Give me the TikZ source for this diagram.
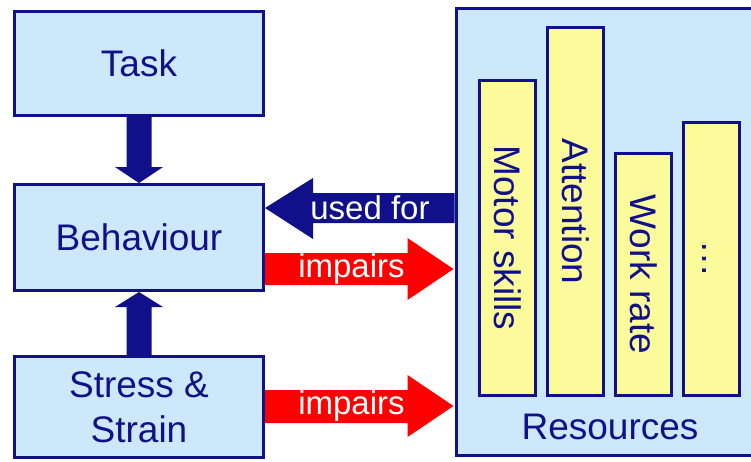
\documentclass[tikz,border=0pt]{standalone}
\usepackage{fontspec}
\setmainfont{Liberation Sans}
\usetikzlibrary{calc}

\definecolor{navy}{HTML}{10108A}
\definecolor{paleblue}{HTML}{CCE8FA}
\definecolor{paleyellow}{HTML}{FBFB9B}
\definecolor{alertred}{HTML}{FF0000}

\tikzset{
  box/.style={draw=navy, line width=3pt, fill=paleblue, text=navy,
    inner sep=0pt, align=center,
    font=\fontsize{37}{45}\selectfont},
  bar/.style={draw=navy, line width=3pt, fill=paleyellow, text=navy,
    inner sep=0pt, rotate=-90, minimum height=56pt,
    font=\fontsize{37}{45}\selectfont},
  arrowlabel/.style={text=white, inner sep=0pt,
    font=\fontsize{33}{40}\selectfont},
}

\begin{document}
\begin{tikzpicture}[x=1pt, y=-1pt]
  \useasboundingbox (0,0) rectangle (751,461);
  \fill[white] (0,0) rectangle (751,461);

  % resources panel, running past the right edge
  \node[box, minimum width=300pt, minimum height=447pt] (res) at (606,232) {};
  \node[text=navy, inner sep=0pt, font=\fontsize{37}{45}\selectfont] (reslabel) at (610,427) {Resources};

  % individual resources
  \node[bar, minimum width=315pt] (motor) at (507.5,238) {Motor skills};
  \node[bar, minimum width=368pt] (attn)  at (575.5,211.5) {Attention};
  \node[bar, minimum width=242pt] (work)  at (643.5,274.5) {Work rate};
  \node[bar, minimum width=273pt] (more)  at (711.5,259) {\vphantom{Mg}\dots};

  % left column
  \node[box, minimum width=249pt, minimum height=104pt] (task) at (139,63.5) {Task};
  \node[box, minimum width=249pt, minimum height=106pt] (beh)  at (139,237.5) {Behaviour};
  \node[box, minimum width=249pt, minimum height=101pt] (stress) at (139,407) {Stress \&\\Strain};

  % Task -> Behaviour
  \fill[navy] ($(task.south)+(-12.5,0)$) -- ($(task.south)+(12.5,0)$)
    -- ($(beh.north)+(12.5,-16)$) -- ($(beh.north)+(24,-16)$)
    -- (beh.north)
    -- ($(beh.north)+(-24,-16)$) -- ($(beh.north)+(-12.5,-16)$) -- cycle;

  % Stress & Strain -> Behaviour
  \fill[navy] ($(stress.north)+(-12.5,0)$) -- ($(stress.north)+(12.5,0)$)
    -- ($(beh.south)+(12.5,15)$) -- ($(beh.south)+(24,15)$)
    -- (beh.south)
    -- ($(beh.south)+(-24,15)$) -- ($(beh.south)+(-12.5,15)$) -- cycle;

  % rows of the horizontal arrows
  \coordinate (usedrow) at (0,208);
  \coordinate (improw) at (0,269);
  \coordinate (stressrow) at (0,406);

  % resources used for behaviour
  \fill[navy] ($(res.west |- usedrow)+(0,-15)$) -- ($(beh.east |- usedrow)+(48,-15)$)
    -- ($(beh.east |- usedrow)+(48,-30)$) -- (beh.east |- usedrow)
    -- ($(beh.east |- usedrow)+(48,31)$) -- ($(beh.east |- usedrow)+(48,15)$)
    -- ($(res.west |- usedrow)+(0,15)$) -- cycle;
  \node[arrowlabel] (usedlbl) at (370,208) {used for};

  % behaviour impairs resources
  \fill[alertred] ($(beh.east |- improw)+(0,-16)$) -- ($(res.west |- improw)+(-47,-16)$)
    -- ($(res.west |- improw)+(-47,-31)$) -- ($(res.west |- improw)+(-1,0)$)
    -- ($(res.west |- improw)+(-47,31)$) -- ($(res.west |- improw)+(-47,16)$)
    -- ($(beh.east |- improw)+(0,16)$) -- cycle;
  \node[arrowlabel] (implbl) at (351.5,269) {impairs};

  % stress & strain impairs resources
  \fill[alertred] ($(stress.east |- stressrow)+(0,-16)$) -- ($(res.west |- stressrow)+(-47,-16)$)
    -- ($(res.west |- stressrow)+(-47,-31)$) -- ($(res.west |- stressrow)+(-1,0)$)
    -- ($(res.west |- stressrow)+(-47,31)$) -- ($(res.west |- stressrow)+(-47,17)$)
    -- ($(stress.east |- stressrow)+(0,17)$) -- cycle;
  \node[arrowlabel] (stresslbl) at (351.5,406) {impairs};
\end{tikzpicture}
\end{document}
